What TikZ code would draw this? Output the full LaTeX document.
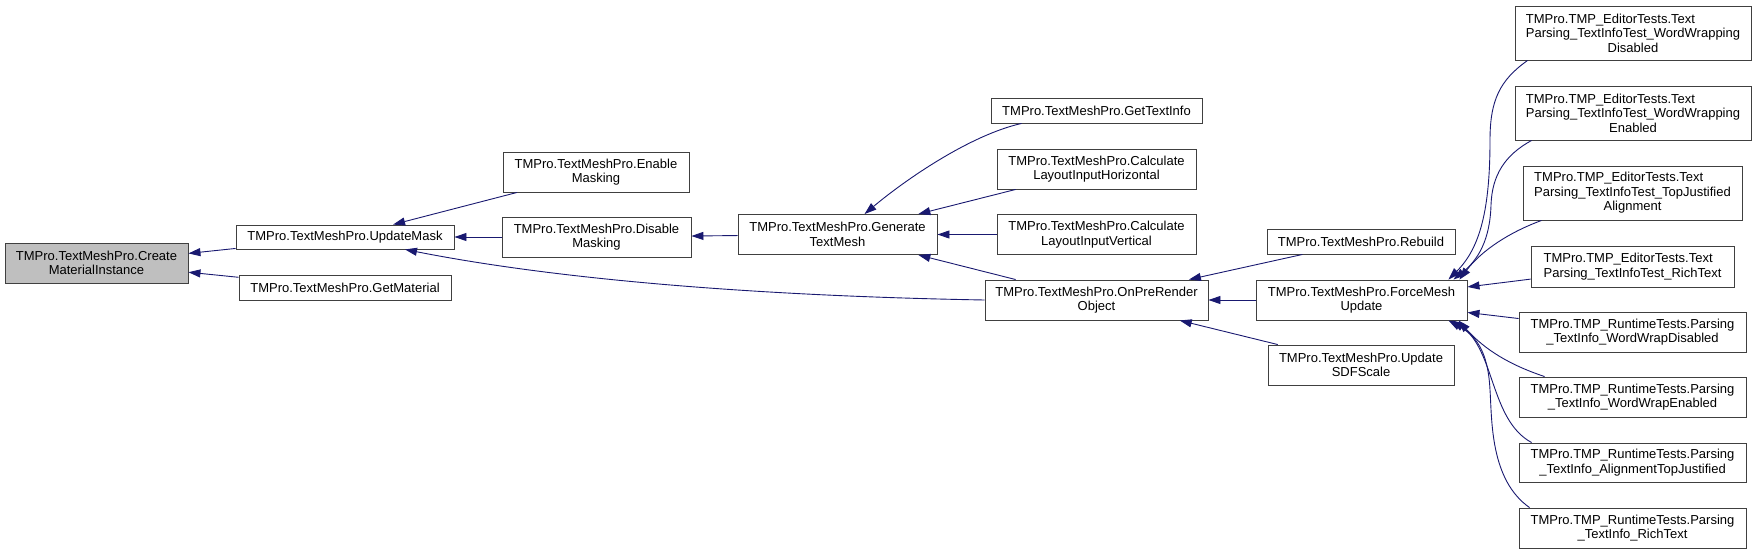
\documentclass[tikz,border=0pt]{standalone}
\usepackage{fontspec}
\setmainfont{Liberation Sans}
\usetikzlibrary{arrows.meta,calc}
\definecolor{edgeblue}{HTML}{191970}
\definecolor{rootgray}{HTML}{BFBFBF}
\newcommand{\leftpair}[2]{\setbox0\hbox{#2}\makebox[\wd0][l]{#1}\\#2}

\begin{document}
\begin{tikzpicture}[x=1pt,y=1pt,
		fn/.style 2 args={draw=black!75, fill=white, line width=0.9pt, minimum width=#1pt, minimum height=#2pt, inner sep=0pt, align=center, font=\fontsize{13}{14.5}\selectfont},
		call/.style={draw=edgeblue, line width=0.9pt, -{Triangle[length=12pt,width=8pt]}}]
			\useasboundingbox (0,0) rectangle (1756,-554);
			\node[fn={183}{40}, fill=rootgray] (cmi) at (96.5,-263) {TMPro.TextMeshPro.Create\\MaterialInstance};
			\node[fn={218}{24}] (upd) at (345,-237) {TMPro.TextMeshPro.UpdateMask};
			\node[fn={212}{25}] (getmat) at (345,-288) {TMPro.TextMeshPro.GetMaterial};
			\node[fn={186}{40}] (enable) at (596,-172) {TMPro.TextMeshPro.Enable\\Masking};
			\node[fn={189}{40}] (disable) at (596.5,-237) {TMPro.TextMeshPro.Disable\\Masking};
			\node[fn={199}{40}] (gen) at (837.5,-234.5) {TMPro.TextMeshPro.Generate\\TextMesh};
			\node[fn={211}{25}] (textinfo) at (1096.5,-110.5) {TMPro.TextMeshPro.GetTextInfo};
			\node[fn={199}{40}] (calch) at (1096.5,-169) {TMPro.TextMeshPro.Calculate\\LayoutInputHorizontal};
			\node[fn={199}{40}] (calcv) at (1096.5,-234.5) {TMPro.TextMeshPro.Calculate\\LayoutInputVertical};
			\node[fn={223}{40}] (onpre) at (1096.5,-300) {TMPro.TextMeshPro.OnPreRender\\Object};
			\node[fn={188}{25}] (rebuild) at (1361,-241.5) {TMPro.TextMeshPro.Rebuild};
			\node[fn={211}{40}] (force) at (1361.5,-300) {TMPro.TextMeshPro.ForceMesh\\Update};
			\node[fn={186}{40}] (sdf) at (1361,-365) {TMPro.TextMeshPro.Update\\SDFScale};
			\node[fn={236}{54}] (ed1) at (1633,-33) {\leftpair{TMPro.TMP\_EditorTests.Text}{Parsing\_TextInfoTest\_WordWrapping}\\Disabled};
			\node[fn={236}{54}] (ed2) at (1633,-113) {\leftpair{TMPro.TMP\_EditorTests.Text}{Parsing\_TextInfoTest\_WordWrapping}\\Enabled};
			\node[fn={219}{54}] (ed3) at (1632.5,-193) {\leftpair{TMPro.TMP\_EditorTests.Text}{Parsing\_TextInfoTest\_TopJustified}\\Alignment};
			\node[fn={203}{41}] (ed4) at (1632.5,-266.5) {\leftpair{TMPro.TMP\_EditorTests.Text}{Parsing\_TextInfoTest\_RichText}};
			\node[fn={227}{40}] (rt1) at (1632.5,-332) {TMPro.TMP\_RuntimeTests.Parsing\\\_TextInfo\_WordWrapDisabled};
			\node[fn={227}{40}] (rt2) at (1632.5,-397) {TMPro.TMP\_RuntimeTests.Parsing\\\_TextInfo\_WordWrapEnabled};
			\node[fn={227}{39}] (rt3) at (1632.5,-462.5) {TMPro.TMP\_RuntimeTests.Parsing\\\_TextInfo\_AlignmentTopJustified};
			\node[fn={227}{40}] (rt4) at (1632.5,-528) {TMPro.TMP\_RuntimeTests.Parsing\\\_TextInfo\_RichText};
			\draw[call] (upd) -- (cmi);
			\draw[call] (getmat) -- (cmi);
			\draw[call] (enable) -- (upd);
			\draw[call] (disable) -- (upd);
			\draw[call] (onpre.west) .. controls (760,-296) and (560,-280) .. ($(upd.south)+(60,0)$);
			\draw[call] (gen) -- (disable);
			\draw[call] ($(textinfo.south west)+(31,0)$) .. controls (970,-135) and (905,-180) .. ($(gen.north)+(27,0)$);
			\draw[call] (calch) -- (gen);
			\draw[call] (calcv) -- (gen);
			\draw[call] (onpre) -- (gen);
			\draw[call] (rebuild) -- (onpre);
			\draw[call] (force) -- (onpre);
			\draw[call] (sdf) -- (onpre);
			\draw[call] ($(ed1.south west)+(13,0)$) .. controls (1500,-80) and (1490,-100) .. (1490,-140) .. controls (1490,-210) and (1480,-248) .. ($(force.north east)+(-19,0)$);
			\draw[call] ($(ed2.south west)+(17,0)$) .. controls (1505,-155) and (1492,-175) .. (1491,-205) .. controls (1490,-240) and (1478,-260) .. ($(force.north east)+(-14,0)$);
			\draw[call] ($(ed3.south west)+(19,0)$) .. controls (1510,-232) and (1482,-250) .. ($(force.north east)+(-8,0)$);
			\draw[call] (ed4) -- (force);
			\draw[call] (rt1) -- (force);
			\draw[call] ($(rt2.north west)+(26,0)$) .. controls (1510,-365) and (1485,-350) .. ($(force.south east)+(-9,0)$);
			\draw[call] ($(rt3.north west)+(13,0)$) .. controls (1490,-420) and (1495,-350) .. ($(force.south east)+(-15,0)$);
			\draw[call] ($(rt4.north west)+(11,0)$) .. controls (1490,-480) and (1492,-420) .. (1490,-390) .. controls (1488,-350) and (1475,-335) .. ($(force.south east)+(-19,0)$);
		\end{tikzpicture}
\end{document}
